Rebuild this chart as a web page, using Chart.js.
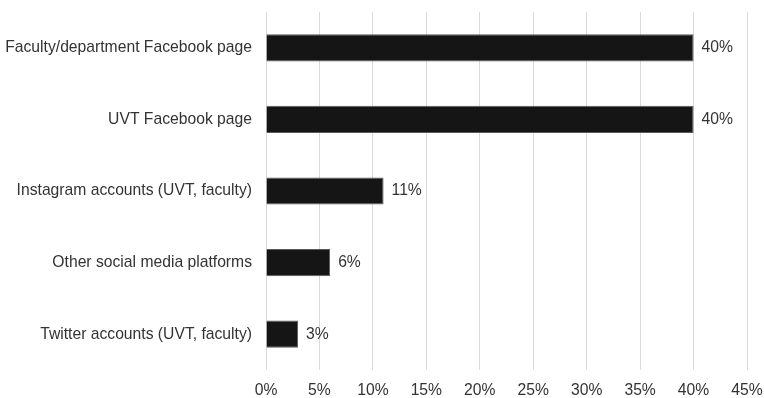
<!DOCTYPE html>
<html>
<head>
<meta charset="utf-8">
<script src="https://cdn.jsdelivr.net/npm/chart.js@4/dist/chart.umd.min.js"></script>
<style>
  html, body { margin: 0; padding: 0; background: #fff; }
  #wrap { width: 764px; height: 398px; }
</style>
</head>
<body>
<div id="wrap"><canvas id="chart" width="764" height="398"></canvas></div>
<script>
var categories = [
    "Faculty/department Facebook page",
    "UVT Facebook page",
    "Instagram accounts (UVT, faculty)",
    "Other social media platforms",
    "Twitter accounts (UVT, faculty)"
];
var shares = [40, 40, 11, 6, 3];
var tickMax = 45;
var tickStep = 5;

var fontFamily = '"Liberation Sans", Arial, sans-serif';

// draws the "40%" style labels right of each bar
var valueLabels = {
    id: 'valueLabels',
    afterDatasetsDraw: function (chart) {
        var ctx = chart.ctx;
        var meta = chart.getDatasetMeta(0);
        ctx.save();
        ctx.font = '15.7px ' + fontFamily;
        ctx.fillStyle = '#333';
        ctx.textAlign = 'left';
        ctx.textBaseline = 'middle';
        meta.data.forEach(function (bar, i) {
            ctx.fillText(shares[i] + '%', bar.x + 8, bar.y);
        });
        ctx.restore();
    }
};

var barChart = new Chart(document.getElementById('chart').getContext('2d'), {
    type: 'bar',
    data: {
        labels: categories,
        datasets: [{
            data: shares,
            backgroundColor: '#151515',
            borderColor: '#5a5a5a',
            borderWidth: 1,
            barPercentage: 0.76,
            categoryPercentage: 0.5
        }]
    },
    plugins: [valueLabels],
    options: {
        indexAxis: 'y',
        responsive: false,
        animation: false,
        layout: { padding: { top: 12, right: 17, left: 0, bottom: 0 } },
        plugins: {
            legend: { display: false },
            tooltip: { enabled: false }
        },
        scales: {
            x: {
                min: 0,
                max: tickMax,
                border: { display: false },
                grid: { color: '#d9d9d9', lineWidth: 1, drawTicks: false },
                ticks: {
                    stepSize: tickStep,
                    padding: 11,
                    color: '#333',
                    font: { family: fontFamily, size: 15.7 },
                    callback: function (v) { return v + '%'; }
                },
                afterFit: function (scale) {
                    scale.height = 28;
                    scale.paddingLeft = 0;
                    scale.paddingRight = 0;
                }
            },
            y: {
                border: { display: false },
                grid: { display: false, drawTicks: false },
                ticks: {
                    padding: 14,
                    color: '#333',
                    font: { family: fontFamily, size: 15.7 }
                },
                afterFit: function (scale) {
                    scale.width = 266;
                    scale.paddingTop = 0;
                    scale.paddingBottom = 0;
                }
            }
        }
    }
});
</script>
</body>
</html>
